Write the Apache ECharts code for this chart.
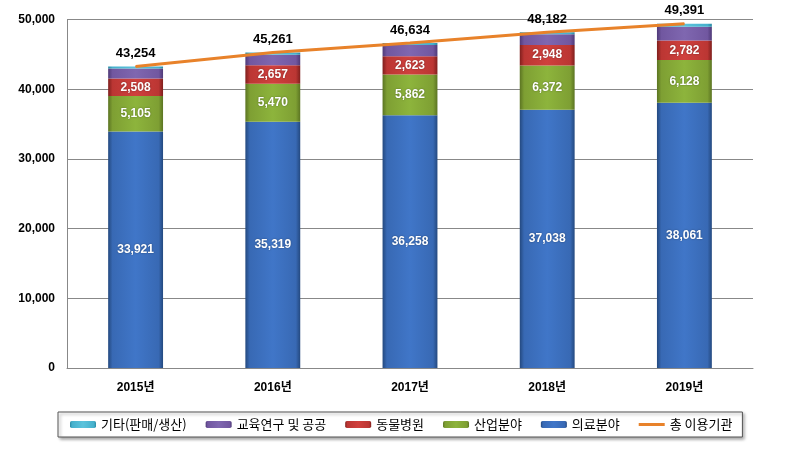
<!DOCTYPE html>
<html><head><meta charset="utf-8">
<script src="https://cdn.jsdelivr.net/npm/echarts@6/dist/echarts.min.js"></script>
<style>html,body{margin:0;padding:0;background:#fff}#c{width:790px;height:455px}</style>
</head><body><div id="c"></div>
<script>
const years = ['2015년','2016년','2017년','2018년','2019년'];
const medical = [33921,35319,36258,37038,38061];
const industry = [5105,5470,5862,6372,6128];
const animal = [2508,2657,2623,2948,2782];
const edu = [1420,1495,1581,1524,2000];
const etc = [300,320,310,300,420];
const total = [43254,45261,46634,48182,49391];
const yTicks = [0,10000,20000,30000,40000,50000];

const fmt = v => v.toLocaleString('en-US');
const FONT = '"Liberation Sans","Noto Sans CJK KR",sans-serif';
function bevel(dark, mid, light){
  return {type:'linear',x:0,y:0,x2:1,y2:0,colorStops:[
    {offset:0,color:dark},{offset:0.08,color:mid},{offset:0.5,color:light},{offset:0.92,color:mid},{offset:1,color:dark}]};
}
const styles = {
  medical: bevel('#24497f','#3869b4','#4076c8'),
  industry: bevel('#5b7422','#7e9f33','#8db43c'),
  animal: bevel('#7f1f1d','#bb3633','#d0403d'),
  edu: bevel('#4f3a78','#7157a0','#7f67b0'),
  etc: bevel('#2a8aa3','#45b0cc','#5cc3dc')
};
const segLabel = {show:true,position:'inside',color:'#fff',fontWeight:'bold',fontSize:12,fontFamily:FONT,
  formatter:p=>fmt(p.value),textShadowColor:'rgba(0,0,0,0.4)',textShadowBlur:2};
function barSeries(name, data, key, label){
  return {name, type:'bar', stack:'t', data, barWidth:'40%',
    itemStyle:{color:styles[key]}, label: label?segLabel:{show:false}};
}
const chart = echarts.init(document.getElementById('c'));
chart.setOption({
  animation:false,
  textStyle:{fontFamily:FONT},
  grid:{left:67,right:37,top:19.5,bottom:87},
  legend:{
    data:['기타(판매/생산)','교육연구 및 공공','동물병원','산업분야','의료분야',
      {name:'총 이용기관', icon:'path://M0,0 L26,0 L26,3 L0,3 Z'}],
    left:58, top:412, width:700,
    padding:[6,10,6,12], itemGap:19, itemWidth:26, itemHeight:7,
    borderColor:'#555', borderWidth:1, backgroundColor:'#fff',
    shadowColor:'rgba(0,0,0,0.35)', shadowBlur:3, shadowOffsetX:2, shadowOffsetY:2,
    textStyle:{fontSize:13,color:'#000',fontFamily:'"Noto Sans CJK KR",sans-serif'}
  },
  xAxis:{type:'category',data:years,boundaryGap:true,
    axisLine:{lineStyle:{color:'#888'}},
    axisTick:{inside:true,length:4,lineStyle:{color:'#888'}},
    axisLabel:{color:'#000',fontWeight:'bold',fontSize:12,margin:14,fontFamily:FONT}},
  yAxis:{type:'value',min:0,max:50000,interval:10000,
    axisLine:{show:true,lineStyle:{color:'#888'}},
    axisTick:{show:false},
    splitLine:{lineStyle:{color:'#888'}},
    axisLabel:{color:'#000',fontWeight:'bold',fontSize:12,margin:12,fontFamily:FONT,
      formatter:v=>yTicks.includes(v)?fmt(v):''}},
  series:[
    barSeries('의료분야', medical, 'medical', true),
    barSeries('산업분야', industry, 'industry', true),
    barSeries('동물병원', animal, 'animal', true),
    barSeries('교육연구 및 공공', edu, 'edu', false),
    barSeries('기타(판매/생산)', etc, 'etc', false),
    {name:'총 이용기관', type:'line', data:total, symbol:'circle', symbolSize:1, showSymbol:true, z:5,
      lineStyle:{color:'#e8822a',width:3}, itemStyle:{color:'#e8822a'},
      label:{show:true,position:'top',distance:6,color:'#000',fontWeight:'bold',fontSize:13,fontFamily:FONT,
        formatter:p=>fmt(p.value)}}
  ]
});
</script></body></html>
